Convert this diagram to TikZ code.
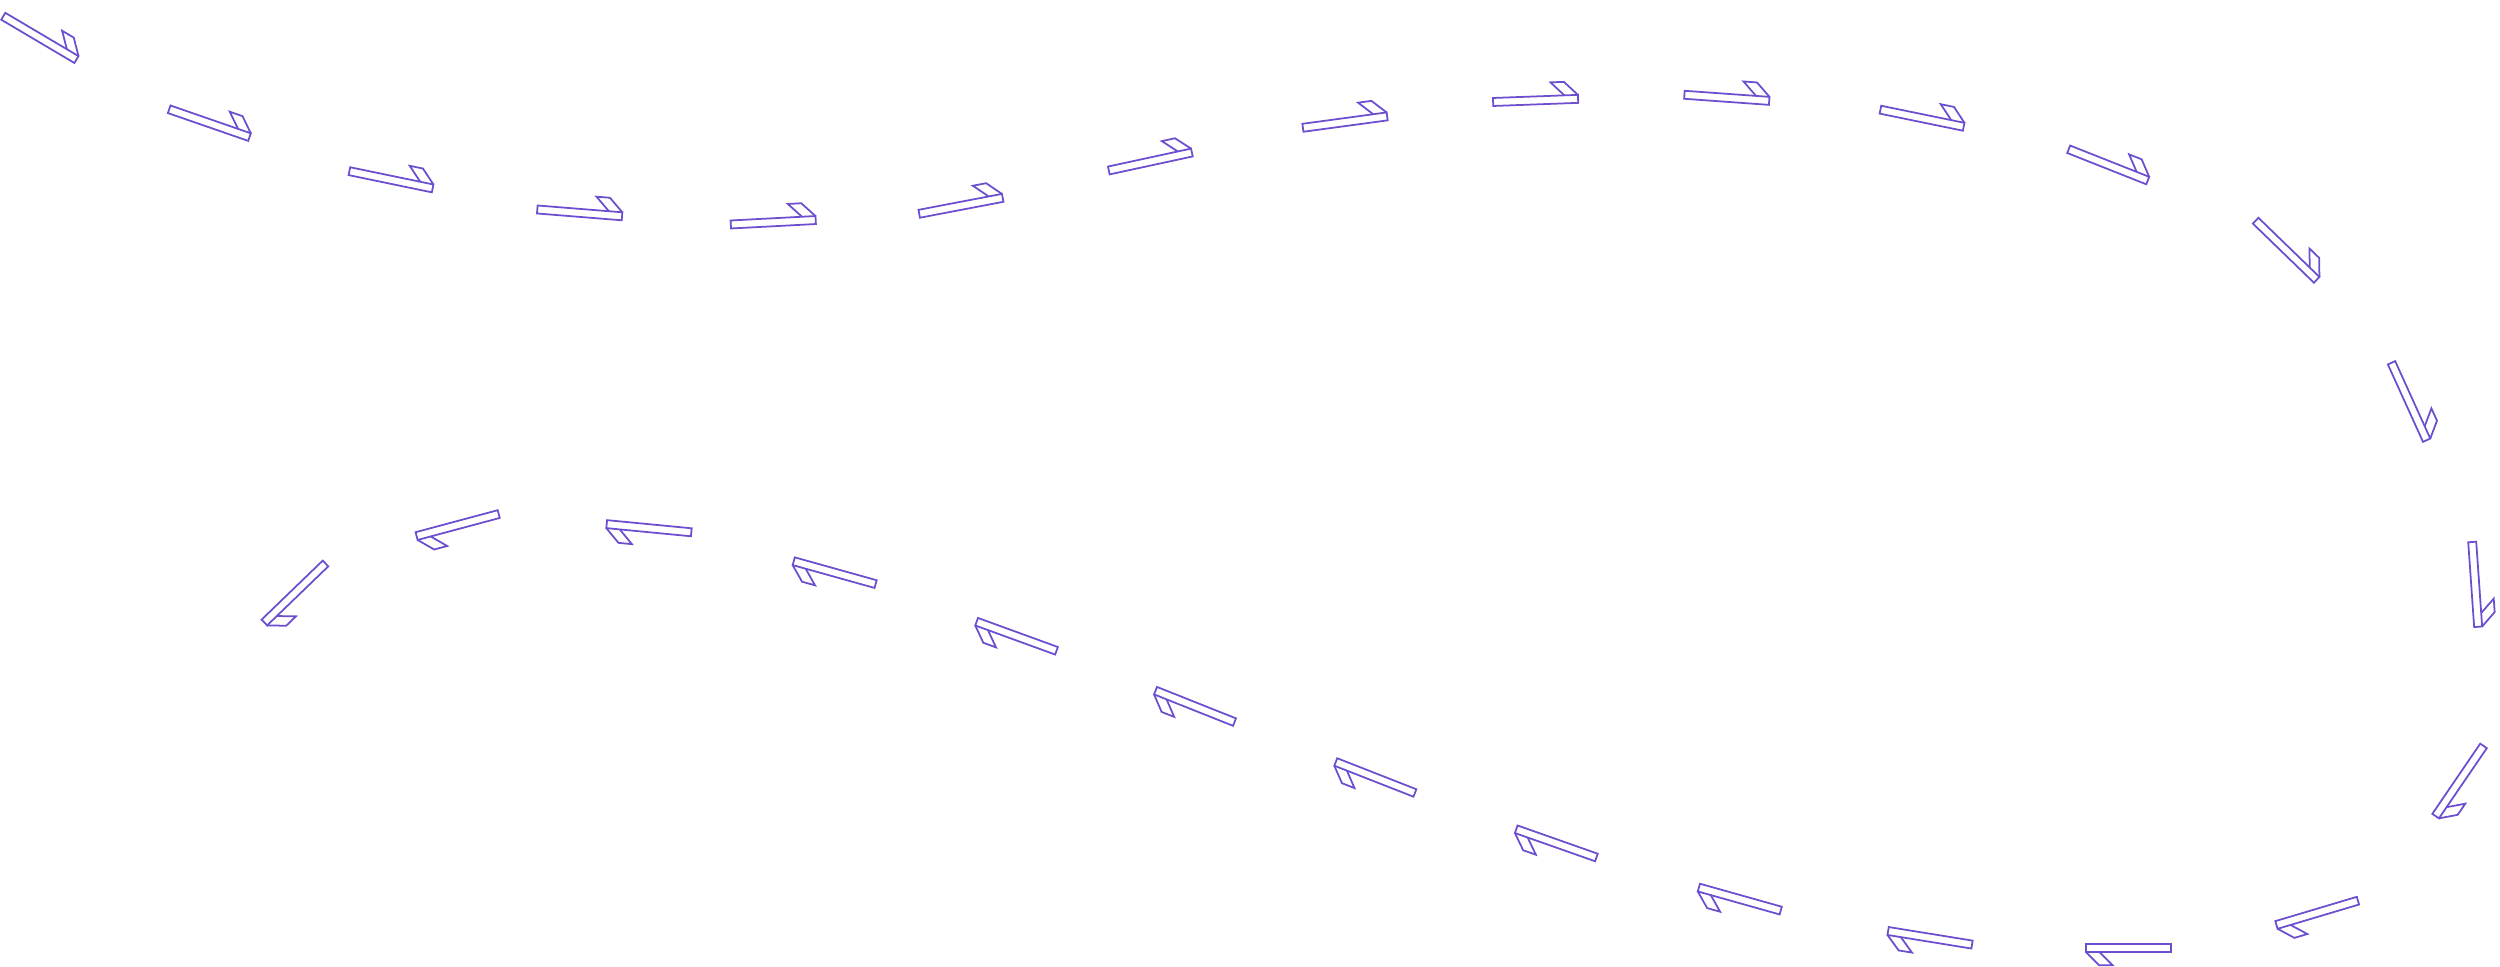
\documentclass[tikz,border=0pt]{standalone}
\usepackage[dvipsnames]{xcolor}
\usepackage{tikz}
\definecolor{hookline}{RGB}{108,78,206}

\begin{document}
\begin{tikzpicture}[x=0.01cm, y=0.01cm, line width=0.5pt,
    hook/.pic={
        \draw[hookline] (0,-4) rectangle (85,4);
        \draw[hookline] (85,4) -- (71.5,17.5) -- (58,17.5) -- (71.5,4);
    }]
    \useasboundingbox (0,0) rectangle (2500,967);
    % upper run, left to right
    \pic[rotate=-30.6] at (3.3,950.7) {hook};
    \pic[rotate=-19.1] at (169.2,857.7) {hook};
    \pic[rotate=-11.7] at (349.4,795.8) {hook};
    \pic[rotate=-4.6] at (537.3,757.5) {hook};
    \pic[rotate=3.0] at (730.8,742.5) {hook};
    \pic[rotate=10.8] at (919.2,753.2) {hook};
    \pic[rotate=12.2] at (1108.8,796.5) {hook};
    \pic[rotate=7.7] at (1302.9,839.2) {hook};
    \pic[rotate=2.1] at (1493.1,865) {hook};
    \pic[rotate=-4.1] at (1684.4,872.2) {hook};
    \pic[rotate=-11.6] at (1880.4,857.3) {hook};
    \pic[rotate=-21.6] at (2068.7,817.7) {hook};
    \pic[rotate=-44.1] at (2255.6,746.3) {hook};
    % right side, going down
    \pic[rotate=-65.6] at (2391.5,604.2) {hook};
    \pic[rotate=-86] at (2472.2,425) {hook};
    \pic[rotate=-124.3] at (2483.5,221.1) {hook};
    % lower run, right to left
    \pic[rotate=-163.4] at (2357.9,66.3) {hook};
    \pic[rotate=180] at (2170.7,19.2) {hook};
    \pic[rotate=170.8] at (1972,22.4) {hook};
    \pic[rotate=164.3] at (1780.7,56.4) {hook};
    \pic[rotate=160.6] at (1596.4,109.5) {hook};
    \pic[rotate=158.6] at (1414.9,174) {hook};
    \pic[rotate=158.3] at (1234.5,244.9) {hook};
    \pic[rotate=160] at (1056.5,316.2) {hook};
    \pic[rotate=164.4] at (875.6,382.9) {hook};
    \pic[rotate=174.5] at (691.3,434.7) {hook};
    \pic[rotate=-165] at (498.7,452.9) {hook};
    \pic[rotate=-136] at (325.5,403.5) {hook};
\end{tikzpicture}
\end{document}
